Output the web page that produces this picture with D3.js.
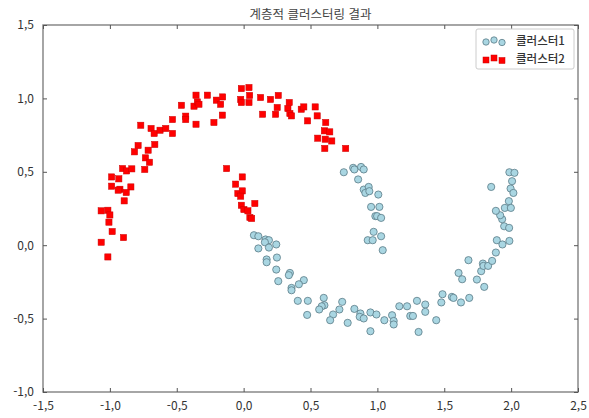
<!DOCTYPE html>
<html lang="ko">
<head>
<meta charset="UTF-8">
<title>계층적 클러스터링 결과</title>
<style>
    body { margin: 0; background: #fff; }
    svg { display: block; }
    .tick text { font-family: "Noto Sans CJK KR", "DejaVu Sans", sans-serif; font-size: 12px; fill: #333; }
    .title { font-family: "Noto Sans CJK KR", sans-serif; font-size: 12.5px; fill: #444; }
    .legend-label { font-family: "Noto Sans CJK KR", sans-serif; font-size: 11.5px; font-weight: 500; fill: #333; }
</style>
</head>
<body>
<svg id="chart" width="589" height="418"></svg>
<script src="https://d3js.org/d3.v7.min.js"></script>
<script>
// cluster 1 (blue circles), [x, y]
const cluster1 = [
    [0.077, 0.068], [0.110, 0.061], [0.164, 0.039], [0.189, 0.034], [0.159, 0.020],
    [0.244, 0.005], [0.110, -0.022], [0.189, -0.016], [0.249, -0.084], [0.172, -0.097],
    [0.172, -0.116], [0.244, -0.166], [0.346, -0.189], [0.338, -0.204], [0.259, -0.245],
    [0.450, -0.238], [0.413, -0.266], [0.358, -0.291], [0.358, -0.307], [0.405, -0.379],
    [0.480, -0.379], [0.475, -0.475], [0.599, -0.359], [0.604, -0.409], [0.584, -0.416],
    [0.565, -0.438], [0.669, -0.472], [0.647, -0.511],
    [0.749, 0.497], [0.819, 0.527], [0.828, 0.516], [0.878, 0.533], [0.898, 0.516],
    [0.856, 0.448], [0.898, 0.379], [0.935, 0.397], [0.910, 0.356], [0.940, 0.368],
    [1.007, 0.345], [0.953, 0.261], [1.015, 0.261], [0.985, 0.198], [0.998, 0.198],
    [1.028, 0.186], [0.972, 0.091], [0.928, 0.034], [0.965, 0.034], [1.028, 0.061],
    [1.040, -0.034],
    [0.737, -0.386], [0.716, -0.438], [0.778, -0.529], [0.828, -0.434], [0.873, -0.465],
    [0.868, -0.488], [0.898, -0.499], [0.948, -0.458], [0.993, -0.472], [0.948, -0.586],
    [1.052, -0.511], [1.110, -0.477], [1.122, -0.516], [1.122, -0.540], [1.164, -0.416],
    [1.222, -0.416], [1.246, -0.482], [1.266, -0.482], [1.296, -0.379], [1.358, -0.404],
    [1.358, -0.454], [1.308, -0.591], [1.440, -0.511], [1.478, -0.390], [1.487, -0.334],
    [1.557, -0.352], [1.569, -0.359], [1.625, -0.390], [1.687, -0.359], [1.607, -0.189],
    [1.634, -0.232], [1.681, -0.102], [1.744, -0.234], [1.799, -0.284], [1.776, -0.177],
    [1.789, -0.125], [1.793, -0.141], [1.828, -0.141], [1.858, -0.107], [1.886, -0.050],
    [1.893, 0.034], [1.935, 0.005], [1.987, 0.029], [1.948, 0.129], [1.985, 0.118],
    [1.933, 0.177], [1.918, 0.204], [1.886, 0.234], [1.953, 0.254], [1.998, 0.254],
    [1.983, 0.300], [1.851, 0.397], [1.996, 0.386], [2.017, 0.356], [2.007, 0.436],
    [1.987, 0.497], [2.025, 0.493]
];

// cluster 2 (red squares), [x, y]
const cluster2 = [
    [-0.769, 0.817], [-0.692, 0.795], [-0.669, 0.761], [-0.625, 0.783], [-0.582, 0.795],
    [-0.532, 0.856], [-0.532, 0.761], [-0.465, 0.953], [-0.433, 0.879], [-0.433, 0.856],
    [-0.371, 0.947], [-0.356, 1.022], [-0.346, 0.976], [-0.334, 0.960], [-0.356, 0.824],
    [-0.271, 1.022], [-0.222, 0.836], [-0.204, 0.988], [-0.172, 0.960], [-0.157, 1.010],
    [-0.159, 0.886], [-0.127, 0.522],
    [-0.789, 0.679], [-0.816, 0.636], [-0.714, 0.647], [-0.664, 0.686], [-0.734, 0.595],
    [-0.704, 0.565], [-0.739, 0.516], [-0.905, 0.522], [-0.875, 0.506], [-0.836, 0.520],
    [-0.987, 0.465], [-0.933, 0.452], [-0.987, 0.402], [-0.925, 0.381], [-0.938, 0.375],
    [-0.843, 0.397], [-0.878, 0.359], [-0.893, 0.302], [-1.065, 0.234], [-1.015, 0.238],
    [-1.000, 0.206], [-1.007, 0.157], [-0.983, 0.093], [-0.898, 0.052], [-1.065, 0.020],
    [-1.015, -0.080],
    [-0.017, 1.067], [0.040, 1.074], [-0.022, 0.993], [-0.017, 0.972], [0.045, 1.020],
    [0.040, 0.972], [0.127, 1.006], [0.201, 0.993], [0.259, 1.020], [0.142, 0.892],
    [0.239, 0.892], [0.251, 0.938], [0.341, 0.972], [0.331, 0.931], [0.346, 0.897],
    [0.358, 0.881], [0.431, 0.926], [0.450, 0.942], [0.535, 0.942], [0.478, 0.847],
    [0.550, 0.881], [0.614, 0.836], [0.604, 0.779], [0.644, 0.772], [0.554, 0.729],
    [0.610, 0.722], [0.659, 0.710], [0.607, 0.659], [0.763, 0.659],
    [-0.010, 0.465], [-0.060, 0.416], [-0.043, 0.352], [-0.010, 0.370], [-0.022, 0.334],
    [0.084, 0.284], [-0.017, 0.272], [0.002, 0.243], [0.032, 0.234], [0.047, 0.189],
    [0.060, 0.182]
];

const xTicks = [-1.5, -1.0, -0.5, 0.0, 0.5, 1.0, 1.5, 2.0, 2.5];
const yTicks = [-1.0, -0.5, 0.0, 0.5, 1.0, 1.5];
const seriesNames = ["클러스터1", "클러스터2"];
const chartTitle = "계층적 클러스터링 결과";

const svg = d3.select("#chart");
const plotLeft = 43, plotRight = 578, plotTop = 25, plotBottom = 392;

const x = d3.scaleLinear().domain([-1.5, 2.5]).range([plotLeft, plotRight]);
const y = d3.scaleLinear().domain([-1.0, 1.5]).range([plotBottom, plotTop]);
const fmt = d => d.toFixed(1).replace(".", ",");

// frame
svg.append("rect")
    .attr("x", plotLeft).attr("y", plotTop)
    .attr("width", plotRight - plotLeft).attr("height", plotBottom - plotTop)
    .attr("fill", "none").attr("stroke", "#808080").attr("stroke-width", 1.4);

// axes with inward ticks
const tickStyle = g => {
    g.select(".domain").remove();
    g.selectAll(".tick line").attr("stroke", "#555");
};
svg.append("g").attr("transform", `translate(0,${plotBottom})`)
    .call(d3.axisBottom(x).tickValues(xTicks).tickFormat(fmt).tickSizeInner(-4).tickPadding(9))
    .call(tickStyle);
svg.append("g").attr("transform", `translate(0,${plotTop})`)
    .call(d3.axisTop(x).tickValues(xTicks).tickFormat("").tickSizeInner(-4))
    .call(tickStyle);
svg.append("g").attr("transform", `translate(${plotLeft},0)`)
    .call(d3.axisLeft(y).tickValues(yTicks).tickFormat(fmt).tickSizeInner(-4).tickPadding(9))
    .call(tickStyle);
svg.append("g").attr("transform", `translate(${plotRight},0)`)
    .call(d3.axisRight(y).tickValues(yTicks).tickFormat("").tickSizeInner(-4))
    .call(tickStyle);

// title
svg.append("text").attr("class", "title")
    .attr("x", (plotLeft + plotRight) / 2).attr("y", 19)
    .attr("text-anchor", "middle")
    .text(chartTitle);

// points
const plot = svg.append("g");
plot.selectAll("circle.c1").data(cluster1).join("circle")
    .attr("class", "c1")
    .attr("cx", d => x(d[0])).attr("cy", d => y(d[1]))
    .attr("r", 3.6)
    .attr("fill", "#a9d6e2").attr("stroke", "#5b7b86").attr("stroke-width", 0.8);

const sq = 6.2;
plot.selectAll("rect.c2").data(cluster2).join("rect")
    .attr("class", "c2")
    .attr("x", d => x(d[0]) - sq / 2).attr("y", d => y(d[1]) - sq / 2)
    .attr("width", sq).attr("height", sq)
    .attr("fill", "#f00").attr("stroke", "#c00").attr("stroke-width", 0.5);

// legend
const legend = svg.append("g");
legend.append("rect")
    .attr("x", 476).attr("y", 29).attr("width", 98).attr("height", 40)
    .attr("rx", 2)
    .attr("fill", "#fff").attr("stroke", "#ccc");
const offs = [[0, 1], [8, -1], [16, 1.5]];
offs.forEach(o => {
    legend.append("circle")
        .attr("cx", 486 + o[0]).attr("cy", 41 + o[1]).attr("r", 3.2)
        .attr("fill", "#a9d6e2").attr("stroke", "#5b7b86").attr("stroke-width", 0.8);
    legend.append("rect")
        .attr("x", 486 + o[0] - 3).attr("y", 59 + o[1] - 3)
        .attr("width", 6).attr("height", 6)
        .attr("fill", "#f00").attr("stroke", "#c00").attr("stroke-width", 0.5);
});
seriesNames.forEach((name, i) => {
    legend.append("text").attr("class", "legend-label")
        .attr("x", 516).attr("y", 45 + i * 18)
        .text(name);
});
</script>
</body>
</html>
